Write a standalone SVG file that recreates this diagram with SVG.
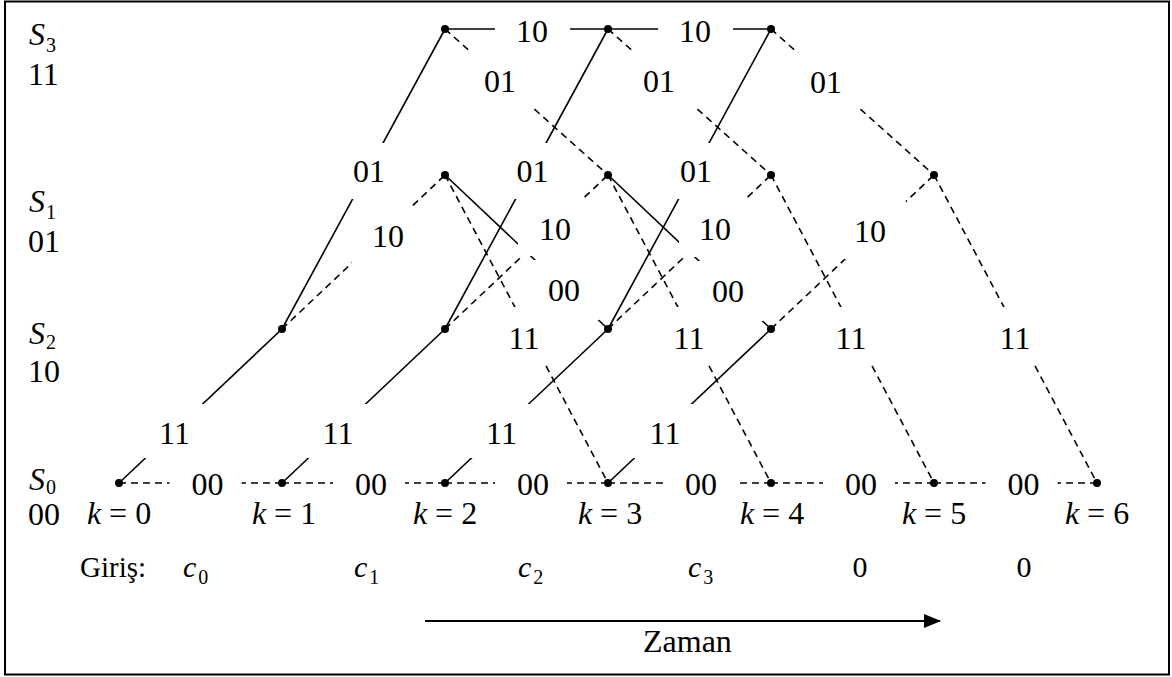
<svg xmlns="http://www.w3.org/2000/svg" width="1172" height="677" viewBox="0 0 1172 677">
<style>
text{font-family:"Liberation Serif","Times New Roman",serif;fill:#000}
.lb{font-size:32px;text-anchor:middle}
.rl{font-size:32px}
.it{font-style:italic}
.sub{font-size:20px}
.s{stroke:#000;stroke-width:1.6;fill:none}
.d{stroke:#000;stroke-width:1.6;fill:none;stroke-dasharray:7 5}
.bx{fill:#fff;stroke:none}
.dot{fill:#000}
</style>
<defs>
<marker id="ah" markerWidth="18" markerHeight="14" refX="16" refY="7" orient="auto" markerUnits="userSpaceOnUse">
<polygon points="0,0 17,7 0,14" fill="#000"/>
</marker>
</defs>
<rect x="5" y="1.5" width="1164" height="673" fill="#fff" stroke="#000" stroke-width="2"/>

<g id="connectors">
<!-- solid: S0->S2 -->
<line class="s" x1="119" y1="483" x2="282" y2="329"/>
<line class="s" x1="282" y1="483" x2="445" y2="329"/>
<line class="s" x1="445" y1="483" x2="608" y2="329"/>
<line class="s" x1="608" y1="483" x2="771" y2="329"/>
<!-- solid: S2->S3 -->
<line class="s" x1="282" y1="329" x2="445" y2="29"/>
<line class="s" x1="445" y1="329" x2="608" y2="29"/>
<line class="s" x1="608" y1="329" x2="771" y2="29"/>
<!-- solid: S3->S3 -->
<line class="s" x1="445" y1="29" x2="608" y2="29"/>
<line class="s" x1="608" y1="29" x2="771" y2="29"/>
<!-- solid: S1->S2 -->
<line class="s" x1="445" y1="175" x2="608" y2="329"/>
<line class="s" x1="608" y1="175" x2="771" y2="329"/>
<!-- dashed: S0->S0 -->
<line class="d" x1="119" y1="483" x2="282" y2="483"/>
<line class="d" x1="282" y1="483" x2="445" y2="483"/>
<line class="d" x1="445" y1="483" x2="608" y2="483"/>
<line class="d" x1="608" y1="483" x2="771" y2="483"/>
<line class="d" x1="771" y1="483" x2="934" y2="483"/>
<line class="d" x1="934" y1="483" x2="1097" y2="483"/>
<!-- dashed: S2->S1 -->
<line class="d" x1="282" y1="329" x2="445" y2="175"/>
<line class="d" x1="445" y1="329" x2="608" y2="175"/>
<line class="d" x1="608" y1="329" x2="771" y2="175"/>
<line class="d" x1="771" y1="329" x2="934" y2="175"/>
<!-- dashed: S1->S0 -->
<line class="d" x1="445" y1="175" x2="608" y2="483"/>
<line class="d" x1="608" y1="175" x2="771" y2="483"/>
<line class="d" x1="771" y1="175" x2="934" y2="483"/>
<line class="d" x1="934" y1="175" x2="1097" y2="483"/>
<!-- dashed: S3->S1 -->
<line class="d" x1="445" y1="29" x2="608" y2="175"/>
<line class="d" x1="608" y1="29" x2="771" y2="175"/>
<line class="d" x1="771" y1="29" x2="934" y2="175"/>

<!-- label boxes -->
<rect class="bx" x="495" y="3" width="75" height="54"/>
<rect class="bx" x="658" y="3" width="75" height="54"/>
<rect class="bx" x="465" y="52" width="70" height="56"/>
<rect class="bx" x="624" y="52" width="70" height="56"/>
<rect class="bx" x="791" y="53" width="70" height="56"/>
<rect class="bx" x="334" y="143" width="70" height="56"/>
<rect class="bx" x="497.5" y="143" width="70" height="56"/>
<rect class="bx" x="661" y="143" width="70" height="56"/>
<rect class="bx" x="352" y="206" width="72" height="58"/>
<rect class="bx" x="518" y="200" width="74" height="56"/>
<rect class="bx" x="679" y="200" width="72" height="57"/>
<rect class="bx" x="834" y="201" width="72" height="58"/>
<rect class="bx" x="529" y="260" width="70" height="60"/>
<rect class="bx" x="693" y="261" width="70" height="60"/>
<rect class="bx" x="489" y="307" width="70" height="58"/>
<rect class="bx" x="654" y="307" width="70" height="58"/>
<rect class="bx" x="816" y="307" width="70" height="58"/>
<rect class="bx" x="980" y="307" width="70" height="58"/>
<rect class="bx" x="140" y="404" width="70" height="54"/>
<rect class="bx" x="303" y="404" width="70" height="54"/>
<rect class="bx" x="466" y="404" width="70" height="54"/>
<rect class="bx" x="629" y="404" width="70" height="54"/>
<rect class="bx" x="169.5" y="462" width="72" height="44"/>
<rect class="bx" x="333" y="462" width="72" height="44"/>
<rect class="bx" x="495" y="462" width="72" height="44"/>
<rect class="bx" x="663" y="462" width="72" height="44"/>
<rect class="bx" x="823" y="462" width="72" height="44"/>
<rect class="bx" x="985.5" y="462" width="72" height="44"/>

<!-- labels -->
<text class="lb" x="532" y="42">10</text>
<text class="lb" x="695" y="42">10</text>
<text class="lb" x="500" y="92">01</text>
<text class="lb" x="659" y="92">01</text>
<text class="lb" x="826" y="93">01</text>
<text class="lb" x="369" y="182">01</text>
<text class="lb" x="532.5" y="182">01</text>
<text class="lb" x="696" y="182">01</text>
<text class="lb" x="388" y="247">10</text>
<text class="lb" x="555" y="240">10</text>
<text class="lb" x="715" y="240">10</text>
<text class="lb" x="870" y="242">10</text>
<text class="lb" x="564" y="301">00</text>
<text class="lb" x="728" y="302">00</text>
<text class="lb" x="524" y="349">11</text>
<text class="lb" x="689" y="349">11</text>
<text class="lb" x="851" y="349">11</text>
<text class="lb" x="1015" y="349">11</text>
<text class="lb" x="174.5" y="444">11</text>
<text class="lb" x="338" y="444">11</text>
<text class="lb" x="501.5" y="444">11</text>
<text class="lb" x="665" y="444">11</text>
<text class="lb" x="207.5" y="495">00</text>
<text class="lb" x="371" y="495">00</text>
<text class="lb" x="533" y="495">00</text>
<text class="lb" x="701" y="495">00</text>
<text class="lb" x="861" y="495">00</text>
<text class="lb" x="1023.5" y="495">00</text>
</g>

<g id="nodes">
<g id="s3-k2"><circle class="dot" cx="445" cy="29" r="4"/></g>
<g id="s3-k3"><circle class="dot" cx="608" cy="29" r="4"/></g>
<g id="s3-k4"><circle class="dot" cx="771" cy="29" r="4"/></g>
<g id="s1-k2"><circle class="dot" cx="445" cy="175" r="4"/></g>
<g id="s1-k3"><circle class="dot" cx="608" cy="175" r="4"/></g>
<g id="s1-k4"><circle class="dot" cx="771" cy="175" r="4"/></g>
<g id="s1-k5"><circle class="dot" cx="934" cy="175" r="4"/></g>
<g id="s2-k1"><circle class="dot" cx="282" cy="329" r="4"/></g>
<g id="s2-k2"><circle class="dot" cx="445" cy="329" r="4"/></g>
<g id="s2-k3"><circle class="dot" cx="608" cy="329" r="4"/></g>
<g id="s2-k4"><circle class="dot" cx="771" cy="329" r="4"/></g>
<g id="s0-k0"><circle class="dot" cx="119" cy="483" r="4"/></g>
<g id="s0-k1"><circle class="dot" cx="282" cy="483" r="4"/></g>
<g id="s0-k2"><circle class="dot" cx="445" cy="483" r="4"/></g>
<g id="s0-k3"><circle class="dot" cx="608" cy="483" r="4"/></g>
<g id="s0-k4"><circle class="dot" cx="771" cy="483" r="4"/></g>
<g id="s0-k5"><circle class="dot" cx="934" cy="483" r="4"/></g>
<g id="s0-k6"><circle class="dot" cx="1097" cy="483" r="4"/></g>
</g>

<g id="state-labels">
<text class="rl" x="29" y="45"><tspan class="it">S</tspan><tspan class="sub" dx="1" dy="7">3</tspan></text>
<text class="rl" x="28" y="85">11</text>
<text class="rl" x="29" y="212"><tspan class="it">S</tspan><tspan class="sub" dx="1" dy="7">1</tspan></text>
<text class="rl" x="28" y="252">01</text>
<text class="rl" x="29" y="344"><tspan class="it">S</tspan><tspan class="sub" dx="1" dy="5">2</tspan></text>
<text class="rl" x="28" y="382">10</text>
<text class="rl" x="29" y="490"><tspan class="it">S</tspan><tspan class="sub" dx="1" dy="4">0</tspan></text>
<text class="rl" x="28" y="525">00</text>
</g>

<g id="time-labels">
<text class="lb" x="119" y="524"><tspan class="it">k</tspan> = 0</text>
<text class="lb" x="284" y="524"><tspan class="it">k</tspan> = 1</text>
<text class="lb" x="445" y="524"><tspan class="it">k</tspan> = 2</text>
<text class="lb" x="610" y="524"><tspan class="it">k</tspan> = 3</text>
<text class="lb" x="772" y="524"><tspan class="it">k</tspan> = 4</text>
<text class="lb" x="934" y="524"><tspan class="it">k</tspan> = 5</text>
<text class="lb" x="1097" y="524"><tspan class="it">k</tspan> = 6</text>
</g>

<g id="input-labels">
<text x="80" y="577" font-size="29">Giriş:</text>
<text x="183" y="577" font-size="30"><tspan class="it">c</tspan><tspan class="sub" dx="2" dy="7">0</tspan></text>
<text x="354" y="577" font-size="30"><tspan class="it">c</tspan><tspan class="sub" dx="2" dy="7">1</tspan></text>
<text x="518" y="577" font-size="30"><tspan class="it">c</tspan><tspan class="sub" dx="2" dy="7">2</tspan></text>
<text x="688" y="577" font-size="30"><tspan class="it">c</tspan><tspan class="sub" dx="2" dy="7">3</tspan></text>
<text x="860" y="577" font-size="30" text-anchor="middle">0</text>
<text x="1024" y="577" font-size="30" text-anchor="middle">0</text>
</g>

<g id="time-arrow">
<line x1="425" y1="621" x2="940" y2="621" stroke="#000" stroke-width="2" marker-end="url(#ah)"/>
<text x="643" y="652" font-size="32">Zaman</text>
</g>
</svg>
